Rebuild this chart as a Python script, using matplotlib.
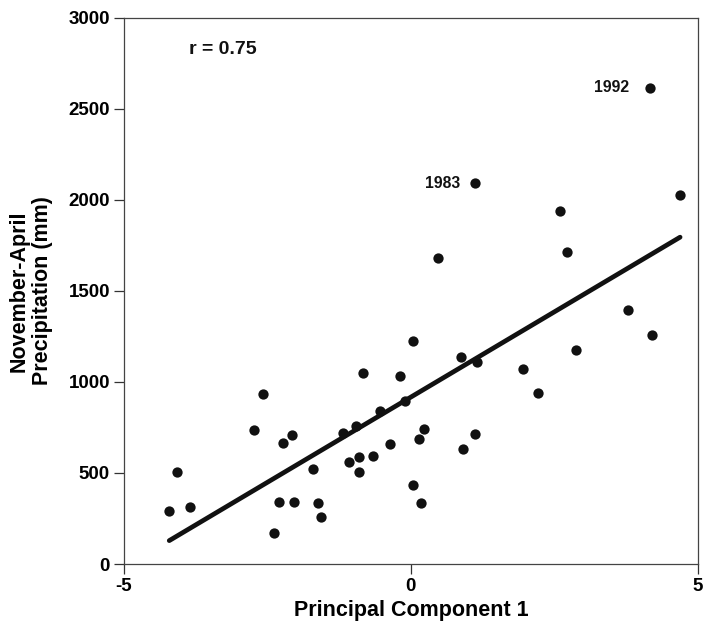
import numpy as np
import matplotlib
matplotlib.use("Agg")
import matplotlib.pyplot as plt

plt.rcParams["font.family"] = ["Liberation Sans", "DejaVu Sans"]
plt.rcParams["font.weight"] = "bold"
plt.rcParams["axes.unicode_minus"] = False

# principal component 1 scores vs. Nov-Apr precipitation (mm)
pc1 = [-4.21, -4.08, -3.84, -2.74, -2.57, -2.38, -2.30, -2.23, -2.07, -2.04,
       -1.70, -1.62, -1.56, -1.19, -1.08, -0.96, -0.90, -0.90, -0.84, -0.66,
       -0.53, -0.37, -0.19, -0.10, 0.03, 0.04, 0.15, 0.18, 0.23, 0.87,
       0.90, 1.11, 1.15, 1.96, 2.22, 2.87, 3.79, 4.20, 4.17, 1.12,
       4.69, 2.59, 2.72, 0.48]
precip = [290, 504, 311, 735, 934, 169, 339, 663, 709, 339,
          524, 335, 260, 722, 560, 758, 586, 504, 1048, 593,
          841, 661, 1033, 896, 1225, 432, 689, 335, 740, 1137,
          630, 716, 1110, 1070, 938, 1176, 1396, 1258, 2615, 2092,
          2027, 1940, 1714, 1683]

# labelled years
years = ["1983", "1992"]
year_x = [1.12, 4.17]
year_y = [2092, 2615]
year_offsets = [-11, -15]  # points left of the dot

# regression line
slope = 187.3
intercept = 917.0
r_text = "r = 0.75"

fig = plt.figure(figsize=(7.04, 6.35), dpi=100)
ax = fig.add_axes([0.176, 0.1118, 0.8153, 0.86])

fit_x = np.array([min(pc1), max(pc1)])
ax.plot(fit_x, slope * fit_x + intercept, color="#111111", lw=3.4,
        solid_capstyle="round", zorder=2)
ax.scatter(pc1, precip, s=55, color="#111111", zorder=3, linewidths=0)

for lab, xv, yv, off in zip(years, year_x, year_y, year_offsets):
    ax.annotate(lab, (xv, yv), xytext=(off, 0), textcoords="offset points",
                ha="right", va="center", fontsize=11.3, fontweight="bold",
                color="#111111")

ax.text(-3.86, 2824, r_text, ha="left", va="center", fontsize=14,
        fontweight="bold", color="#111111")

ax.set_xlim(-5, 5)
ax.set_ylim(0, 3000)
ax.set_xticks([-5, 0, 5])
ax.set_yticks([0, 500, 1000, 1500, 2000, 2500, 3000])
ax.tick_params(direction="out", length=7, width=0.9, color="#333333",
               labelsize=13.5, pad=3)
for t in ax.get_xticklabels() + ax.get_yticklabels():
    t.set_fontweight("bold")
for sp in ax.spines.values():
    sp.set_linewidth(0.9)
    sp.set_color("#444444")

ax.set_xlabel("Principal Component 1", fontsize=15.5, fontweight="bold",
              labelpad=4)
ax.set_ylabel("November-April\nPrecipitation (mm)", fontsize=15.5,
              fontweight="bold", labelpad=11, linespacing=1.15)

fig.savefig("out.png", dpi=100)
